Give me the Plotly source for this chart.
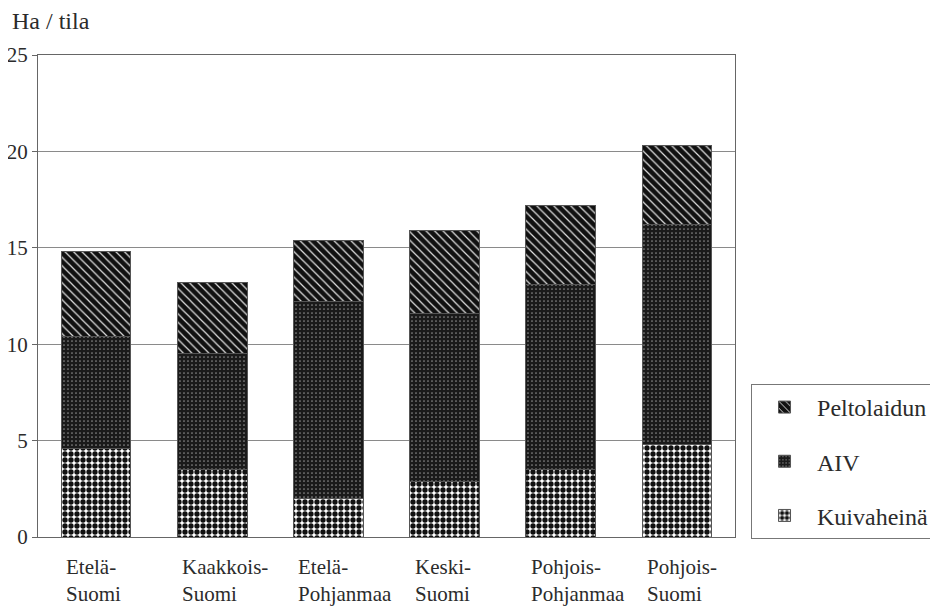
import plotly.graph_objects as go

regions = ["Etelä-Suomi", "Kaakkois-Suomi", "Etelä-Pohjanmaa", "Keski-Suomi",
           "Pohjois-Pohjanmaa", "Pohjois-Suomi"]
region_labels = ["Etelä-<br>Suomi", "Kaakkois-<br>Suomi", "Etelä-<br>Pohjanmaa",
                 "Keski-<br>Suomi", "Pohjois-<br>Pohjanmaa", "Pohjois-<br>Suomi"]
kuivaheina = [4.6, 3.5, 2.0, 2.9, 3.5, 4.8]
aiv = [5.8, 6.0, 10.2, 8.7, 9.6, 11.4]
peltolaidun = [4.4, 3.7, 3.2, 4.3, 4.1, 4.1]
y_ticks = [0, 5, 10, 15, 20, 25]

FONT = "Liberation Serif"
TXT = "#2b2b2b"
EDGE = "#555555"

fig = go.Figure()
fig.add_trace(go.Bar(
    x=regions, y=kuivaheina, name="Kuivaheinä", legendgroup="k", legendrank=3,
    marker=dict(color="white", line=dict(color=EDGE, width=1),
                pattern=dict(shape=".", fgcolor="#111111", bgcolor="white",
                             size=6, solidity=0.62, fillmode="replace")),
))
fig.add_trace(go.Bar(
    x=regions, y=aiv, name="AIV", legendgroup="a", legendrank=2,
    marker=dict(color="#1a1a1a", line=dict(color=EDGE, width=1),
                pattern=dict(shape=".", fgcolor="#8a8a8a", bgcolor="#1a1a1a",
                             size=4, solidity=0.15, fillmode="replace")),
))
fig.add_trace(go.Bar(
    x=regions, y=peltolaidun, name="Peltolaidun", legendgroup="p", legendrank=1,
    marker=dict(color="#151515", line=dict(color=EDGE, width=1),
                pattern=dict(shape="\\", fgcolor="#e0e0e0", bgcolor="#111111",
                             size=6, solidity=0.2, fillmode="replace")),
))

for reg, lab in zip(regions, region_labels):
    fig.add_annotation(x=reg, xref="x", y=0, yref="paper", yanchor="top",
                       xanchor="left", xshift=-32, yshift=-16, text=lab,
                       showarrow=False, align="left",
                       font=dict(family=FONT, size=21, color=TXT))

fig.add_annotation(x=0, xref="paper", y=1, yref="paper", xanchor="left",
                   yanchor="middle", xshift=-28, yshift=34, text="Ha / tila",
                   showarrow=False, font=dict(family=FONT, size=24, color=TXT))

fig.update_layout(
    width=938, height=613,
    margin=dict(l=30, r=211, t=47, b=84, autoexpand=False),
    paper_bgcolor="white", plot_bgcolor="white",
    barmode="stack", bargap=0.4,
    font=dict(family=FONT, color=TXT),
    showlegend=True,
    legend=dict(x=1.023, y=0.3175, xanchor="left", yanchor="top",
                traceorder="grouped", tracegroupgap=20,
                bordercolor="#777777", borderwidth=1,
                font=dict(family=FONT, size=24, color=TXT),
                itemwidth=55),
    xaxis=dict(showticklabels=False, showline=True, linecolor="#666666",
               linewidth=1, mirror=True, ticks="", showgrid=False,
               automargin=False),
    yaxis=dict(range=[0, 25], tickvals=y_ticks, showgrid=True,
               gridcolor="#8a8a8a", gridwidth=1, showline=True,
               linecolor="#666666", linewidth=1, mirror=True,
               ticks="outside", ticklen=5, tickcolor="#666666", ticklabelstandoff=0,
               tickfont=dict(family=FONT, size=21, color=TXT), zeroline=False,
               automargin=False),
)

fig.write_html("out.html")
